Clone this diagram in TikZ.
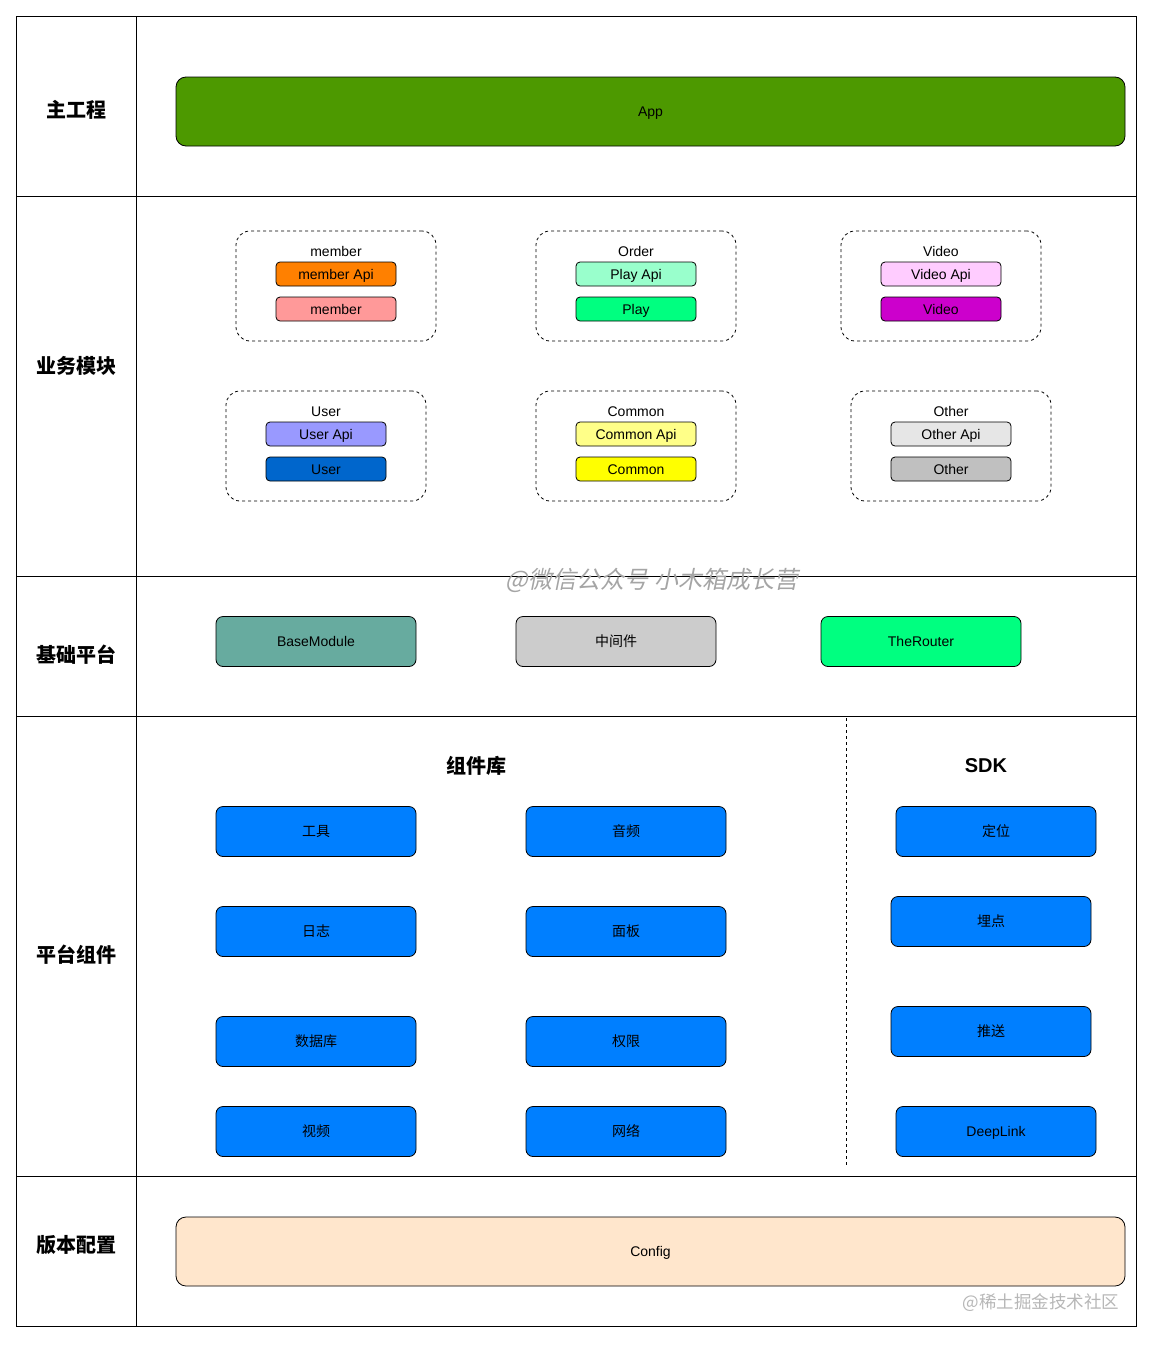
\documentclass[tikz,border=0pt]{standalone}
\usepackage{fontspec}
\setmainfont{Liberation Sans}
\newfontfamily\cjk{Noto Sans CJK SC}
\newfontfamily\cjkslant[FakeSlant=0.2]{Noto Sans CJK SC}
\usepackage{tikz}
\usetikzlibrary{positioning}
\definecolor{appgreen}{RGB}{77,153,0}
\definecolor{cfgpeach}{RGB}{255,230,204}
\definecolor{memapi}{RGB}{255,128,0}
\definecolor{mempink}{RGB}{255,153,153}
\definecolor{playapi}{RGB}{153,255,204}
\definecolor{playgreen}{RGB}{0,255,128}
\definecolor{vidapi}{RGB}{255,204,255}
\definecolor{vidpurple}{RGB}{204,0,204}
\definecolor{userapi}{RGB}{153,153,255}
\definecolor{userblue}{RGB}{0,102,204}
\definecolor{comapi}{RGB}{255,255,136}
\definecolor{comyellow}{RGB}{255,255,0}
\definecolor{othapi}{RGB}{230,230,230}
\definecolor{othgray}{RGB}{192,192,192}
\definecolor{basegreen}{RGB}{103,171,159}
\definecolor{midgray}{RGB}{204,204,204}
\definecolor{compblue}{RGB}{0,127,255}
\definecolor{wmgray}{RGB}{165,165,165}
\tikzset{
  rowlabel/.style={font=\cjk\bfseries\fontsize{20}{24}\selectfont},
  heading/.style={font=\bfseries\fontsize{20}{24}\selectfont},
  group/.style={rectangle, draw=black, dashed, rounded corners=14pt,
    minimum width=200pt, minimum height=110pt, line width=0.8pt},
  grouptitle/.style={font=\fontsize{14}{16}\selectfont,
    text height=11pt, text depth=1pt},
  modbox/.style={rectangle, draw=black, rounded corners=4pt,
    minimum width=120pt, minimum height=24pt, inner sep=0pt,
    text height=11pt, text depth=1pt,
    font=\fontsize{14}{16}\selectfont, line width=0.8pt},
  platbox/.style={rectangle, draw=black, rounded corners=7pt,
    minimum width=200pt, minimum height=50pt, inner sep=0pt,
    text height=11pt, text depth=1pt,
    font=\fontsize{14}{16}\selectfont, line width=0.8pt},
  comp/.style={platbox, fill=compblue, font=\cjk\fontsize{14}{16}\selectfont},
  widebox/.style={rectangle, draw=black, rounded corners=10pt,
    minimum width=949pt, minimum height=69pt, inner sep=0pt,
    text height=11pt, text depth=1pt,
    font=\fontsize{14}{16}\selectfont, line width=0.8pt},
  frame/.style={line width=1pt, color=black}
}

\begin{document}
\begin{tikzpicture}[x=1pt, y=-1pt]
  \useasboundingbox[fill=white] (0,0) rectangle (1156,1347);

  % Table frame
  \draw[frame] (16,16) rectangle (1136,1326);
  \draw[frame] (136,16) -- (136,1326);
  \foreach \yy in {196,576,716,1176}
    \draw[frame] (16,\yy) -- (1136,\yy);

  % Row labels
  \node[rowlabel] (lblmain) at (76,110) {主工程};
  \node[rowlabel] (lblbiz) at (76,366) {业务模块};
  \node[rowlabel] (lblbase) at (76,655) {基础平台};
  \node[rowlabel] (lblplat) at (76,955) {平台组件};
  \node[rowlabel] (lblcfg) at (76,1245) {版本配置};

  % Main project
  \node[widebox, fill=appgreen] (app) at (650.5,111.5) {App};

  % Business modules
  \node[group] (grpmember) at (336,286) {};
  \node[grouptitle] (ttlmember) at (336,251) {member};
  \node[modbox, fill=memapi] (memberapi) at (336,274) {member Api};
  \node[modbox, fill=mempink] (member) at (336,309) {member};

  \node[group] (grporder) at (636,286) {};
  \node[grouptitle] (ttlorder) at (636,251) {Order};
  \node[modbox, fill=playapi] (playapi) at (636,274) {Play Api};
  \node[modbox, fill=playgreen] (play) at (636,309) {Play};

  \node[group] (grpvideo) at (941,286) {};
  \node[grouptitle] (ttlvideo) at (941,251) {Video};
  \node[modbox, fill=vidapi] (videoapi) at (941,274) {Video Api};
  \node[modbox, fill=vidpurple] (video) at (941,309) {Video};

  \node[group] (grpuser) at (326,446) {};
  \node[grouptitle] (ttluser) at (326,411) {User};
  \node[modbox, fill=userapi] (userapi) at (326,434) {User Api};
  \node[modbox, fill=userblue] (user) at (326,469) {User};

  \node[group] (grpcommon) at (636,446) {};
  \node[grouptitle] (ttlcommon) at (636,411) {Common};
  \node[modbox, fill=comapi] (commonapi) at (636,434) {Common Api};
  \node[modbox, fill=comyellow] (common) at (636,469) {Common};

  \node[group] (grpother) at (951,446) {};
  \node[grouptitle] (ttlother) at (951,411) {Other};
  \node[modbox, fill=othapi] (otherapi) at (951,434) {Other Api};
  \node[modbox, fill=othgray] (other) at (951,469) {Other};

  % Base platform
  \node[platbox, fill=basegreen] (basemodule) at (316,641.5) {BaseModule};
  \node[platbox, fill=midgray, font=\cjk\fontsize{14}{16}\selectfont] (middleware) at (616,641.5) {中间件};
  \node[platbox, fill=playgreen] (therouter) at (921,641.5) {TheRouter};

  % Platform components
  \draw[line width=1pt, dashed] (846,718) -- (846,1166);
  \node[rowlabel] (hdrlib) at (476,766) {组件库};
  \node[heading] (hdrsdk) at (986,766) {SDK};

  \node[comp] (tools) at (316,831.5) {工具};
  \node[comp] (audio) at (626,831.5) {音频};
  \node[comp] (logs) at (316,931.5) {日志};
  \node[comp] (panel) at (626,931.5) {面板};
  \node[comp] (database) at (316,1041.5) {数据库};
  \node[comp] (perm) at (626,1041.5) {权限};
  \node[comp] (vplayer) at (316,1131.5) {视频};
  \node[comp] (network) at (626,1131.5) {网络};

  \node[comp] (locate) at (996,831.5) {定位};
  \node[comp] (track) at (991,921.5) {埋点};
  \node[comp] (push) at (991,1031.5) {推送};
  \node[comp, font=\fontsize{14}{16}\selectfont] (deeplink) at (996,1131.5) {DeepLink};

  % Version config
  \node[widebox, fill=cfgpeach] (config) at (650.5,1251.5) {Config};

  % Watermarks
  \node[text=wmgray, font=\cjkslant\fontsize{24}{28}\selectfont] (wmwechat) at (652,580) {@微信公众号 小木箱成长营};
  \node[text=wmgray!80, font=\cjk\fontsize{17.5}{20}\selectfont] (wmjuejin) at (1041,1303) {@稀土掘金技术社区};
\end{tikzpicture}
\end{document}
